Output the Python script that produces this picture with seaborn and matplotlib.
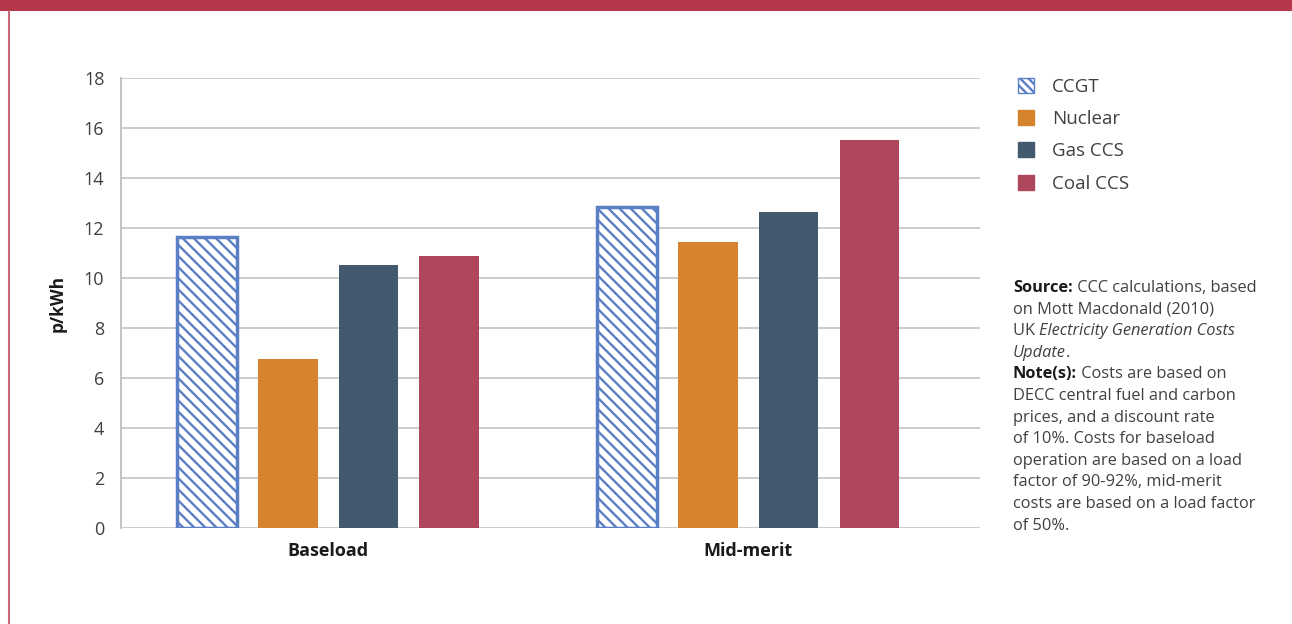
import pandas as pd
import matplotlib
matplotlib.use("Agg")
import matplotlib.pyplot as plt
import seaborn as sns
from matplotlib.patches import Patch, Rectangle
from matplotlib.lines import Line2D

# Data
loads = ["Baseload", "Mid-merit"]
techs = ["CCGT", "Nuclear", "Gas CCS", "Coal CCS"]
baseload_costs = [11.65, 6.76, 10.52, 10.88]
midmerit_costs = [12.83, 11.44, 12.64, 15.52]
tech_colors = ["#FFFFFF", "#D5832C", "#435A6E", "#AE465C"]
ccgt_edge = "#5B7FC4"
y_ticks = list(range(0, 19, 2))

note_lines = [
    [("Source:", "bold", "normal"), (" CCC calculations, based", "normal", "normal")],
    [("on Mott Macdonald (2010)", "normal", "normal")],
    [("UK ", "normal", "normal"), ("Electricity Generation Costs", "normal", "italic")],
    [("Update", "normal", "italic"), (".", "normal", "normal")],
    [("Note(s):", "bold", "normal"), (" Costs are based on", "normal", "normal")],
    [("DECC central fuel and carbon", "normal", "normal")],
    [("prices, and a discount rate", "normal", "normal")],
    [("of 10%. Costs for baseload", "normal", "normal")],
    [("operation are based on a load", "normal", "normal")],
    [("factor of 90-92%, mid-merit", "normal", "normal")],
    [("costs are based on a load factor", "normal", "normal")],
    [("of 50%.", "normal", "normal")],
]

df = pd.DataFrame({
    "load": [l for l in loads for _ in techs],
    "tech": techs * len(loads),
    "cost": baseload_costs + midmerit_costs,
})

sns.set_theme(style="white")
plt.rcParams["font.family"] = ["Open Sans", "DejaVu Sans"]
plt.rcParams["hatch.linewidth"] = 1.7

W, H = 1292, 624
fig = plt.figure(figsize=(W / 100, H / 100), dpi=100)
ax = fig.add_axes([121 / W, 1 - 528 / H, (980 - 121) / W, (528 - 78) / H])

sns.barplot(data=df, x="load", y="cost", hue="tech", hue_order=techs,
            palette=tech_colors, width=0.77, gap=0.26, saturation=1,
            legend=False, ax=ax, zorder=3, linewidth=0)

for bar in ax.containers[0]:
    bar.set_facecolor("white")
    bar.set_edgecolor(ccgt_edge)
    bar.set_linewidth(2.5)
    bar.set_hatch("\\\\\\")

ax.set_ylim(0, 18)
ax.set_yticks(y_ticks)
ax.set_xlim(-0.493, 1.552)
ax.yaxis.grid(True, color="#C8C8C8", linewidth=1.3, zorder=0)
ax.set_axisbelow(True)
for s in ["top", "right", "bottom"]:
    ax.spines[s].set_visible(False)
ax.spines["left"].set_color("#BFBFBF")
ax.spines["left"].set_linewidth(1.3)
ax.tick_params(axis="both", length=0)
ax.tick_params(axis="y", pad=12, labelsize=13, labelcolor="#404040")
ax.tick_params(axis="x", pad=10, labelsize=13)
for lbl in ax.get_xticklabels():
    lbl.set_fontweight("bold")
    lbl.set_color("#1A1A1A")
ax.set_xlabel("")
ax.set_ylabel("p/kWh", fontsize=12.5, fontweight="bold", color="#1A1A1A", labelpad=12)

# legend
handles = [Patch(facecolor="white", edgecolor=ccgt_edge, hatch="\\\\\\\\", linewidth=1.0)]
handles += [Patch(facecolor=c, edgecolor=c) for c in tech_colors[1:]]
fig.legend(handles, techs, loc="upper left", bbox_to_anchor=(1001 / W, 1 - 61 / H),
           frameon=False, fontsize=13.5, handlelength=0.85, handleheight=0.85,
           handletextpad=0.95, labelspacing=0.76, labelcolor="#404040")

# decorative frame: top band and left rule
fig.add_artist(Rectangle((0, 1 - 11 / H), 1, 11 / H, transform=fig.transFigure,
                         facecolor="#B5374B", edgecolor="none"))
fig.add_artist(Line2D([8.5 / W, 8.5 / W], [0, 1 - 11 / H], transform=fig.transFigure,
                      color="#C96A7B", linewidth=1.5))

# source / notes block with mixed styles
fig.canvas.draw()
renderer = fig.canvas.get_renderer()
x0, y0, dy = 1013, 288, 21.6
for i, line in enumerate(note_lines):
    x = x0
    for txt, weight, style in line:
        t = fig.text(x / W, 1 - (y0 + i * dy) / H, txt, fontsize=11.8, fontweight=weight,
                     fontstyle=style, color="#404040" if weight == "normal" else "#1A1A1A",
                     va="center", ha="left")
        x += t.get_window_extent(renderer).width

fig.savefig("out.png", dpi=100)
